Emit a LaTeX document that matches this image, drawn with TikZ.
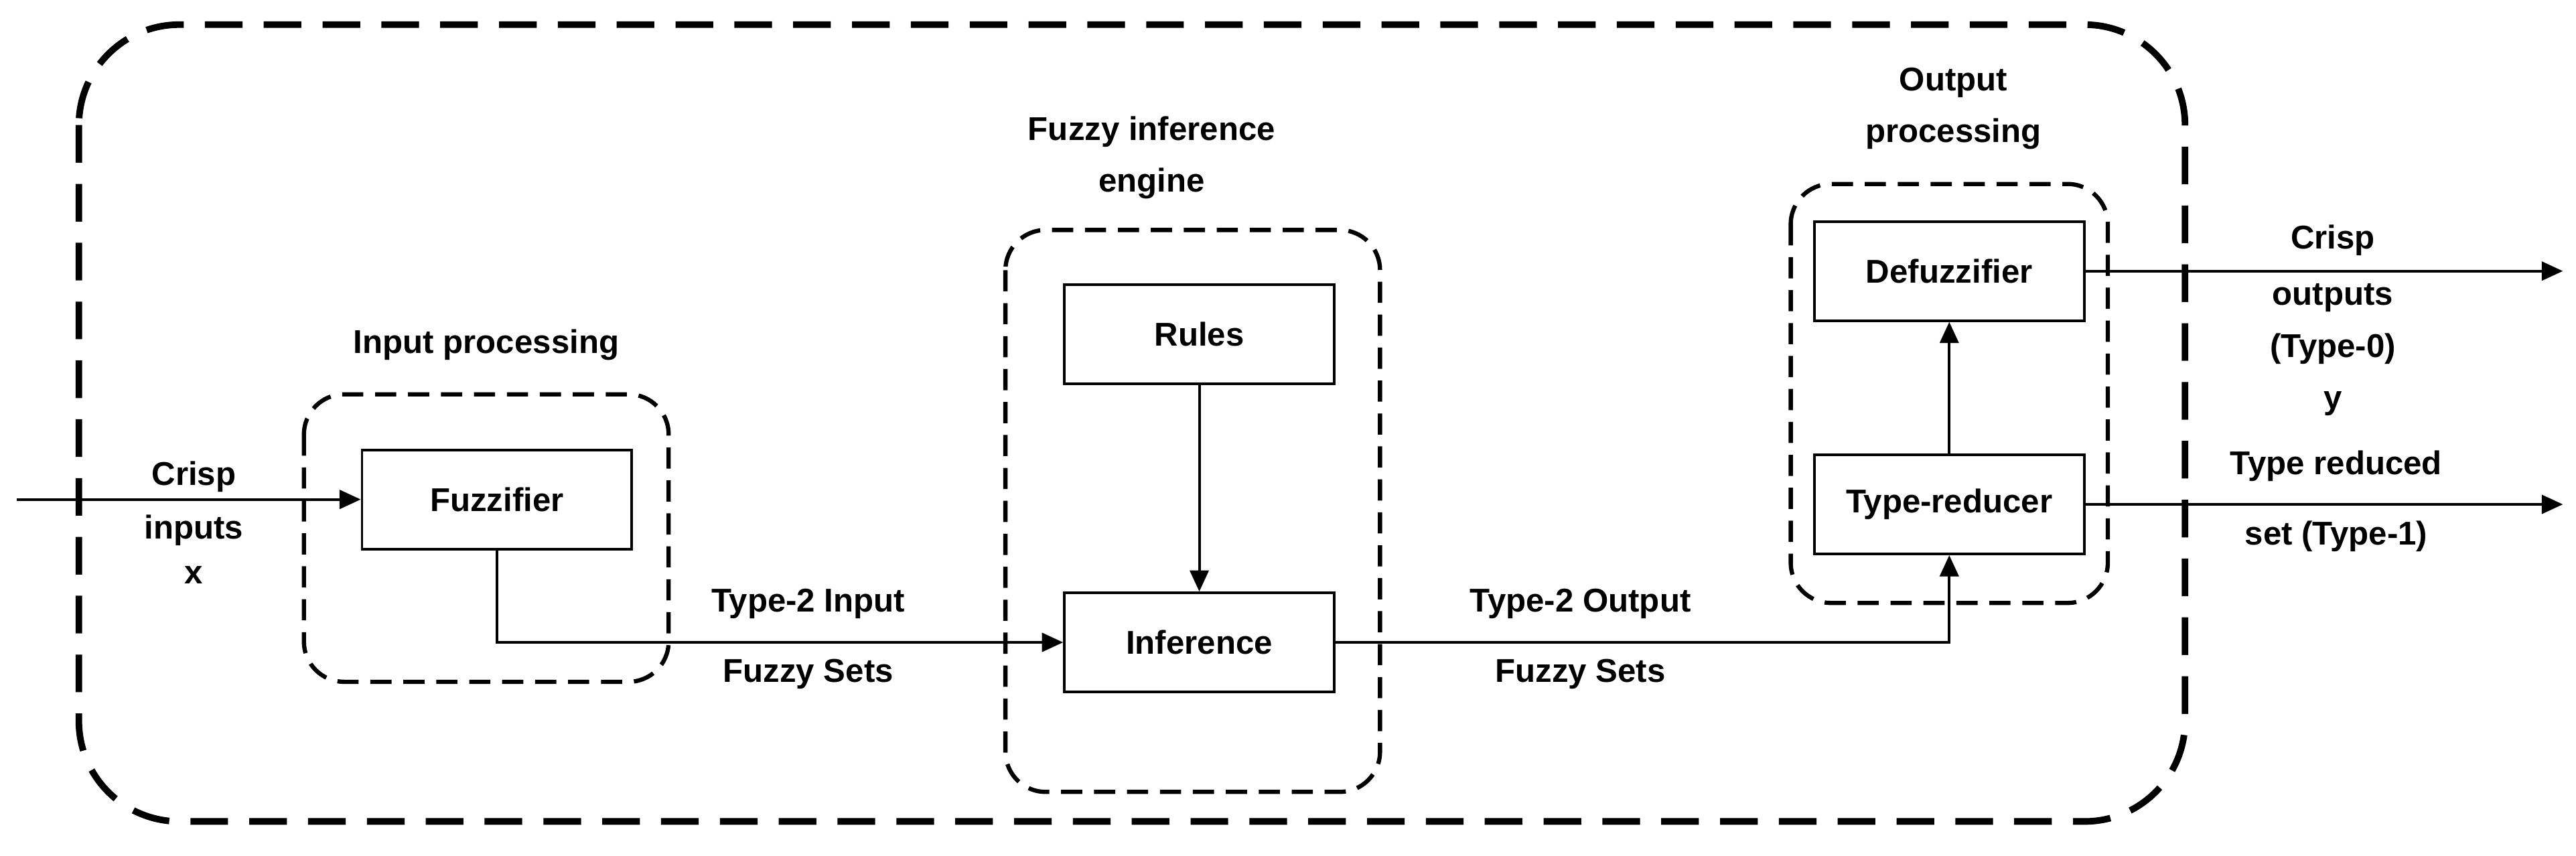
\documentclass[tikz,border=0pt]{standalone}
\usepackage{fontspec}
\setmainfont{Liberation Sans}
\usetikzlibrary{arrows.meta}
\begin{document}
\begin{tikzpicture}[x=0.02453cm,y=-0.02453cm,
  font=\fontsize{14}{16}\selectfont\bfseries,
  box/.style={draw,line width=1.1pt,minimum width=4.03cm,minimum height=1.48cm,inner sep=0pt},
  grp/.style={draw,dashed,line width=1.8pt,dash pattern=on 9pt off 5pt,rounded corners=0.6cm},
  arr/.style={line width=1.1pt,-{Triangle[length=9pt,width=8pt]}},
  lbl/.style={align=center,inner sep=0pt}]
\useasboundingbox (0,0) rectangle (1568,521);
\draw[dashed,line width=2.8pt,dash pattern=on 16pt off 9pt,rounded corners=1.5cm] (48,15) rectangle (1330,500);
\draw[grp] (185,240) rectangle (407,415);
\draw[grp] (612,140) rectangle (840,482);
\draw[grp] (1090,112) rectangle (1283,367);
\node[lbl] (lip) at (296,210) {Input processing};
\node[lbl] (lfe) at (701,96) {Fuzzy inference\\[6pt]engine};
\node[lbl] (lop) at (1189,66) {Output\\[6pt]processing};
\node[box] (fuz) at (302.5,304) {Fuzzifier};
\node[box] (rul) at (730,203.5) {Rules};
\node[box] (inf) at (730,391) {Inference};
\node[box] (def) at (1186.5,165) {Defuzzifier};
\node[box] (tr) at (1186.5,307) {Type-reducer};
\coordinate (in) at (10,304);
\coordinate (o1) at (1560,165);
\coordinate (o2) at (1560,307);
\node[lbl] (lci) at (118,318) {Crisp\\[7pt]inputs\\[3pt]x};
\node[lbl] (l2i) at (492,389) {Type-2 Input\\[14pt]Fuzzy Sets};
\node[lbl] (l2o) at (962,389) {Type-2 Output\\[14pt]Fuzzy Sets};
\node[lbl] (lco) at (1420,195) {Crisp\\[8pt]outputs\\[6pt](Type-0)\\[6pt]y};
\node[lbl] (ltr) at (1422,305) {Type reduced\\[14pt]set (Type-1)};
\draw[arr] (in) -- (fuz.west);
\draw[arr] (fuz.south) |- (inf.west);
\draw[arr] (rul) -- (inf);
\draw[arr] (inf.east) -| (tr.south);
\draw[arr] (tr) -- (def);
\draw[arr] (def.east) -- (o1);
\draw[arr] (tr.east) -- (o2);
\end{tikzpicture}
\end{document}
